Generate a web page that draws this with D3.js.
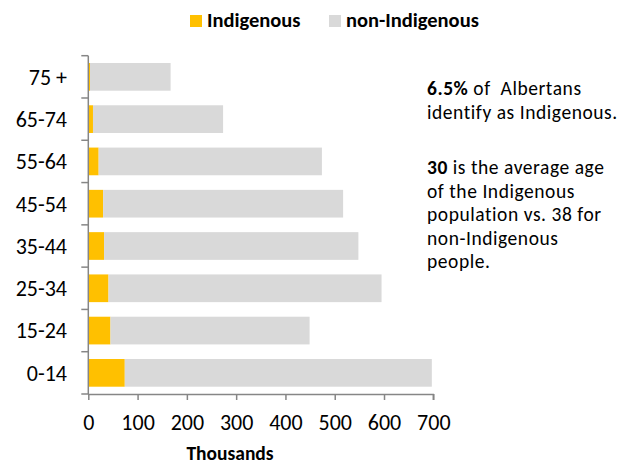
<!DOCTYPE html>
<html>
<head>
<meta charset="utf-8">
<script src="https://cdn.jsdelivr.net/npm/d3@7"></script>
<style>
  html, body { margin: 0; padding: 0; background: #fff; }
  svg { display: block; font-family: Carlito, Lato, "Open Sans", sans-serif; }
</style>
</head>
<body>
<svg id="chart" width="629" height="465"></svg>
<script>
// ---- data ----
const categories = ["75 +", "65-74", "55-64", "45-54", "35-44", "25-34", "15-24", "0-14"];
const indigenous = [3.5, 9.5, 21, 30, 32, 41, 45, 74];
const nonIndigenous = [163.5, 264, 453, 487, 516, 554, 404, 623];
const xTicks = [0, 100, 200, 300, 400, 500, 600, 700];
const seriesNames = ["Indigenous", "non-Indigenous"];
const seriesColors = ["#FFC000", "#D9D9D9"];
const axisTitle = "Thousands";

const svg = d3.select("#chart");
const axisColor = "#868686";

const x = d3.scaleLinear().domain([0, 700]).range([88.3, 433.3]);
const y = d3.scaleBand().domain(categories).range([55.7, 394]).paddingInner(0.345).paddingOuter(0.1725);
const yBoundary = d3.scaleBand().domain(categories).range([55.7, 394]).padding(0);

const stackData = categories.map((c, i) => ({ cat: c, Indigenous: indigenous[i], "non-Indigenous": nonIndigenous[i] }));
const stack = d3.stack().keys(seriesNames)(stackData);

const g = svg.append("g");
stack.forEach((layer, si) => {
  g.selectAll(null).data(layer).enter().append("rect")
    .attr("x", d => x(d[0]))
    .attr("width", d => x(d[1]) - x(d[0]))
    .attr("y", d => y(d.data.cat))
    .attr("height", y.bandwidth())
    .attr("fill", seriesColors[si]);
});

// y axis line & ticks at band boundaries
const boundaries = categories.map(c => yBoundary(c)).concat([394]);
svg.append("line").attr("x1", x(0)).attr("x2", x(0)).attr("y1", boundaries[0]).attr("y2", 394)
  .attr("stroke", axisColor).attr("stroke-width", 1.5);
svg.selectAll(null).data(boundaries).enter().append("line")
  .attr("x1", x(0) - 7).attr("x2", x(0)).attr("y1", d => d).attr("y2", d => d)
  .attr("stroke", axisColor).attr("stroke-width", 1.5);

// y labels
svg.selectAll(null).data(categories).enter().append("text")
  .attr("x", 67).attr("y", d => y(d) + y.bandwidth() / 2)
  .attr("dy", "0.36em").attr("text-anchor", "end")
  .attr("font-size", 22).attr("fill", "#000")
  .text(d => d);

// x axis
const xAxis = d3.axisBottom(x).tickValues(xTicks).tickSize(6).tickPadding(14).tickFormat(d3.format("d"));
const xg = svg.append("g").attr("transform", "translate(0,394)").call(xAxis);
xg.select(".domain").attr("stroke", axisColor).attr("stroke-width", 1.5).attr("d", `M${x(0)},0.5H${x(700)}V6`);
xg.selectAll(".tick line").attr("stroke", axisColor).attr("stroke-width", 1.5);
xg.selectAll(".tick text").attr("font-size", 22).attr("fill", "#000").attr("font-family", "Carlito, Lato, sans-serif");

svg.append("text").attr("x", 230).attr("y", 460).attr("text-anchor", "middle")
  .attr("font-size", 19.5).attr("font-weight", "bold").text(axisTitle);

// legend
const legendX = [190, 329];
seriesNames.forEach((n, i) => {
  svg.append("rect").attr("x", legendX[i]).attr("y", 15).attr("width", 12).attr("height", 12).attr("fill", seriesColors[i]);
  svg.append("text").attr("x", legendX[i] + 17).attr("y", 26.7).attr("font-size", 20.5).attr("font-weight", "bold").text(n);
});

// annotation
const notes = [
  [{ t: "6.5%", b: true }, { t: " of  Albertans" }],
  [{ t: "identify as Indigenous." }],
  [{ t: "30", b: true }, { t: " is the average age" }],
  [{ t: "of the Indigenous" }],
  [{ t: "population vs. 38 for" }],
  [{ t: "non-Indigenous" }],
  [{ t: "people." }]
];
const noteY = [95, 118.5, 174, 197.5, 221, 244.5, 268];
notes.forEach((line, i) => {
  const t = svg.append("text").attr("x", 427).attr("y", noteY[i]).attr("font-size", 19.5)
    .attr("letter-spacing", 0.55).attr("fill", "#000")
    .attr("xml:space", "preserve").style("white-space", "pre");
  line.forEach(s => t.append("tspan").attr("font-weight", s.b ? "bold" : "normal").text(s.t));
});
</script>
</body>
</html>
